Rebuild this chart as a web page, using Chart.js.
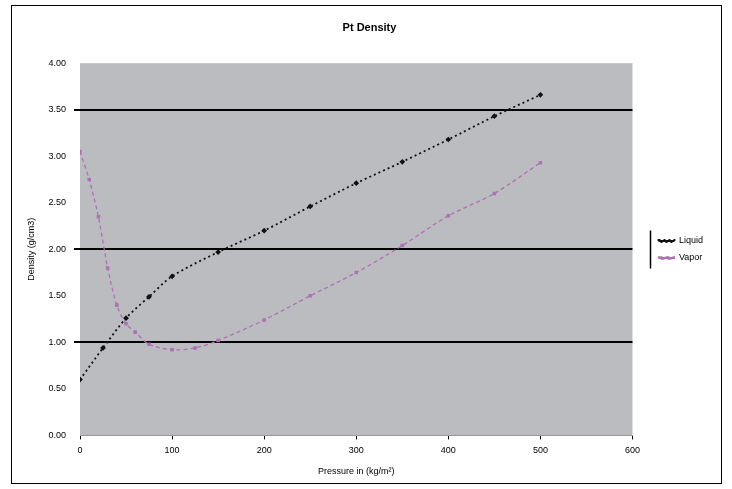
<!DOCTYPE html>
<html><head><meta charset="utf-8">
<script src="https://cdn.jsdelivr.net/npm/chart.js@4"></script>
<style>html,body{margin:0;padding:0;background:#fff}#w{width:732px;height:489px}</style>
</head><body><div id="w"><canvas id="c" width="732" height="489"></canvas></div>
<script>
const xTicks = [0, 100, 200, 300, 400, 500, 600];
const yTicks = ["0.00","0.50","1.00","1.50","2.00","2.50","3.00","3.50","4.00"];
const refLines = [1.0, 2.0, 3.5];
const liquidX = [0, 25, 50, 75, 100, 150, 200, 250, 300, 350, 400, 450, 500];
const liquidY = [0.60, 0.94, 1.26, 1.49, 1.71, 1.97, 2.20, 2.46, 2.71, 2.94, 3.18, 3.43, 3.66];
const vaporX = [0, 10, 20, 30, 40, 50, 60, 75, 100, 125, 150, 200, 250, 300, 350, 400, 450, 500];
const vaporY = [3.05, 2.75, 2.35, 1.80, 1.40, 1.20, 1.11, 0.98, 0.92, 0.94, 1.02, 1.24, 1.50, 1.75, 2.04, 2.36, 2.60, 2.93];
const seriesNames = ["Liquid", "Vapor"];

const pts = (xs, ys) => xs.map((x, i) => ({x, y: ys[i]}));

const bgPlugin = {
  id: 'bg',
  afterLayout(chart) {
    const lg = chart.legend;
    if (lg) {
      const w = lg.right - lg.left;
      lg.left = chart.chartArea.right + 18;
      lg.right = lg.left + w;
      lg.top += 9; lg.bottom += 9;
      if (lg.adjustHitBoxes) lg.adjustHitBoxes();
    }
    const t = chart.titleBlock;
    if (t) { t.left += 11; t.right += 11; t.top += 1; t.bottom += 1; }
  },
  beforeDraw(chart) {
    const {ctx, chartArea: a} = chart;
    ctx.save();
    ctx.fillStyle = '#fff';
    ctx.fillRect(0, 0, chart.width, chart.height);
    ctx.fillStyle = '#bbbcbf';
    ctx.fillRect(a.left, a.top, a.right - a.left, a.bottom - a.top);
    ctx.strokeStyle = '#000';
    ctx.lineWidth = 1;
    ctx.strokeRect(11.5, 5.5, 710, 478);
    const lg = chart.legend;
    if (lg && lg.legendHitBoxes && lg.legendHitBoxes.length) {
      const hb = lg.legendHitBoxes;
      const top = Math.min(...hb.map(h => h.top)) - 6;
      const bot = Math.max(...hb.map(h => h.top + h.height)) + 6;
      ctx.beginPath();
      ctx.moveTo(Math.round(lg.left) + 0.5, top);
      ctx.lineTo(Math.round(lg.left) + 0.5, bot);
      ctx.lineWidth = 1.5;
      ctx.stroke();
    }
    ctx.restore();
  }
};

new Chart(document.getElementById('c'), {
  type: 'scatter',
  data: {
    datasets: [
      { label: seriesNames[0], data: pts(liquidX, liquidY), showLine: true,
        borderColor: '#111', backgroundColor: '#111', borderWidth: 1.8, borderDash: [2, 3],
        pointStyle: 'rectRot', pointRadius: 1.6, tension: 0.3 },
      { label: seriesNames[1], data: pts(vaporX, vaporY), showLine: true,
        borderColor: '#b070b4', backgroundColor: '#b070b4', borderWidth: 1.3, borderDash: [4, 3],
        pointStyle: 'rect', pointRadius: 1.6, tension: 0.3 }
    ]
  },
  options: {
    responsive: false, animation: false,
    layout: { padding: { left: 22, right: 37, top: 0, bottom: 8 } },
    plugins: {
      title: { display: true, text: 'Pt Density', color: '#000',
        font: { family: 'Liberation Sans', size: 11, weight: 'bold' }, padding: { top: 20, bottom: 30 } },
      legend: { position: 'right', align: 'center',
        labels: { color: '#000', font: { family: 'Liberation Sans', size: 9 }, boxWidth: 16, boxHeight: 2, padding: 8,
          usePointStyle: false } },
      tooltip: { enabled: false }
    },
    scales: {
      x: { type: 'linear', min: 0, max: 600,
        afterBuildTicks: s => { s.ticks = xTicks.map(v => ({value: v})); },
        ticks: { color: '#000', font: { family: 'Liberation Sans', size: 9 }, padding: 6 },
        grid: { drawOnChartArea: false, color: '#000', tickLength: 4 },
        border: { color: '#999' },
        title: { display: true, text: 'Pressure in (kg/m²)', color: '#000', font: { family: 'Liberation Sans', size: 9 }, padding: { top: 4 } } },
      y: { min: 0, max: 4,
        afterBuildTicks: s => { s.ticks = yTicks.map(v => ({value: parseFloat(v)})); },
        afterFit: s => { s.width = 58; },
        ticks: { color: '#000', font: { family: 'Liberation Sans', size: 9 }, padding: 8,
          callback: (v) => yTicks.find(t => parseFloat(t) === v) },
        grid: { color: ctx => refLines.includes(ctx.tick && ctx.tick.value) ? '#000' : 'rgba(0,0,0,0)',
          lineWidth: 2, tickLength: 6 },
        border: { display: false },
        title: { display: true, text: 'Density (g/cm3)', color: '#000', font: { family: 'Liberation Sans', size: 9 }, padding: { bottom: 2 } } }
    }
  },
  plugins: [bgPlugin]
});
</script></body></html>
